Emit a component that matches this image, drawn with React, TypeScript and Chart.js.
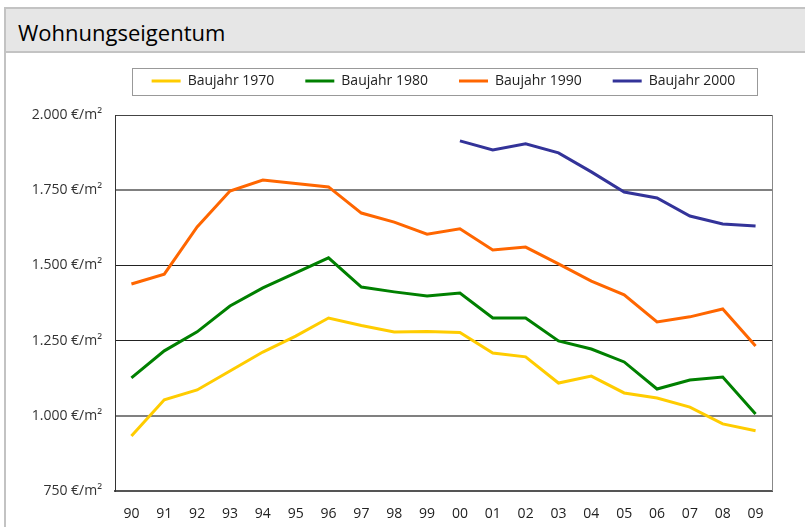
import React, { useEffect, useRef } from 'react';
import { Chart, registerables } from 'chart.js';

Chart.register(...registerables);

const FONT = '"Open Sans", sans-serif';

const years = ['90', '91', '92', '93', '94', '95', '96', '97', '98', '99', '00', '01', '02', '03', '04', '05', '06', '07', '08', '09'];
const baujahr1970 = [933, 1053, 1086, 1149, 1212, 1265, 1325, 1300, 1279, 1280, 1277, 1209, 1196, 1109, 1132, 1076, 1059, 1029, 973, 950];
const baujahr1980 = [1126, 1216, 1279, 1365, 1425, 1475, 1525, 1428, 1412, 1398, 1408, 1325, 1325, 1249, 1222, 1179, 1089, 1119, 1129, 1006];
const baujahr1990 = [1438, 1471, 1628, 1747, 1784, 1772, 1761, 1674, 1644, 1604, 1622, 1551, 1561, 1505, 1448, 1402, 1312, 1329, 1355, 1232];
const baujahr2000 = [null, null, null, null, null, null, null, null, null, null, 1914, 1884, 1904, 1874, 1811, 1744, 1724, 1664, 1638, 1631];
const seriesNames = ['Baujahr 1970', 'Baujahr 1980', 'Baujahr 1990', 'Baujahr 2000'];
const seriesColors = ['#ffcc00', '#008000', '#ff6600', '#333399'];
const yMin = 750;
const yMax = 2000;
const yStep = 250;
const titleText = 'Wohnungseigentum';

function formatEuro(v: number): string {
  const s = String(Math.round(v));
  const sep = s.length > 3 ? s.slice(0, s.length - 3) + '.' + s.slice(-3) : s;
  return sep + ' €/m²';
}

const framePlugin = {
  id: 'framePlugin',
  beforeDraw(chart: any) {
    const lg = chart.legend;
    const ca = chart.chartArea;
    if (lg && ca) {
      lg.left = ca.left;
      lg.right = ca.right;
    }
  },
  afterDraw(chart: any) {
    const ctx = chart.ctx;
    const ca = chart.chartArea;
    const lg = chart.legend;
    ctx.save();
    // right border of plot
    ctx.strokeStyle = '#888888';
    ctx.lineWidth = 1;
    ctx.beginPath();
    const rx = Math.round(ca.right) + 0.5;
    ctx.moveTo(rx, ca.top);
    ctx.lineTo(rx, ca.bottom);
    ctx.stroke();
    // legend frame
    if (lg) {
      const pad = lg.options.labels.padding;
      const cy = lg.top + pad + 7;
      const x0 = Math.round(ca.left + 17) + 0.5;
      const x1 = Math.round(ca.right - 15) + 0.5;
      const y0 = Math.round(cy - 13) + 0.5;
      const y1 = Math.round(cy + 14) + 0.5;
      ctx.strokeStyle = '#999999';
      ctx.strokeRect(x0, y0, x1 - x0, y1 - y0);
    }
    ctx.restore();
  },
};

export default function App() {
  const ref = useRef<HTMLCanvasElement>(null);

  useEffect(() => {
    const values = [baujahr1970, baujahr1980, baujahr1990, baujahr2000];
    const chart = new Chart(ref.current as HTMLCanvasElement, {
      type: 'line',
      data: {
        labels: years,
        datasets: values.map((d, i) => ({
          label: seriesNames[i],
          data: d,
          borderColor: seriesColors[i],
          backgroundColor: seriesColors[i],
          borderWidth: 3,
          pointRadius: 0,
          tension: 0,
          fill: false,
        })),
      },
      options: {
        responsive: false,
        animation: false,
        devicePixelRatio: 1,
        layout: { padding: { top: 43, left: 0, right: 33, bottom: 0 } },
        plugins: {
          tooltip: { enabled: false },
          title: { display: false },
          subtitle: {
            display: true,
            text: '',
            weight: 500,
            font: { size: 1, lineHeight: 1 },
            padding: { top: 0, bottom: 16 },
          } as any,
          legend: {
            display: true,
            position: 'top',
            labels: {
              boxWidth: 29,
              boxHeight: 3,
              padding: 31,
              color: '#222222',
              font: { family: FONT, size: 14 },
              generateLabels: (c: any) =>
                Chart.defaults.plugins.legend.labels.generateLabels(c).map((l: any) => ({ ...l, lineWidth: 0 })),
            },
          },
        },
        scales: {
          x: {
            type: 'category',
            offset: true,
            grid: { display: false, drawTicks: false },
            border: { display: true, color: '#555555', width: 2 },
            ticks: {
              color: '#222222',
              padding: 15,
              font: { family: FONT, size: 14 },
              maxRotation: 0,
              autoSkip: false,
            },
            afterFit: (s: any) => {
              s.height = 36;
            },
          },
          y: {
            min: yMin,
            max: yMax,
            grid: {
              drawTicks: false,
              color: (c: any) => {
                const v = c.tick ? c.tick.value : 0;
                if (v === 1500 || v === 1250) return '#222222';
                if (v === 2000) return '#444444';
                if (v === 750) return 'rgba(0,0,0,0)';
                return '#808080';
              },
              lineWidth: (c: any) => {
                const v = c.tick ? c.tick.value : 0;
                return v === 1750 || v === 1000 ? 2 : 1;
              },
            },
            border: { display: true, color: '#333333', width: 1 },
            ticks: {
              stepSize: yStep,
              color: '#333333',
              padding: 13,
              font: { family: FONT, size: 14 },
              callback: (v: any) => formatEuro(Number(v)),
            },
            afterFit: (s: any) => {
              s.width = 115;
            },
          },
        },
      },
      plugins: [framePlugin],
    });
    return () => chart.destroy();
  }, []);

  return (
    <div style={{ position: 'absolute', left: 0, top: 0, width: 805, height: 527, overflow: 'hidden', background: '#ffffff' }}>
      <div
        style={{
          position: 'absolute',
          left: 4,
          top: 7,
          width: 801,
          height: 520,
          borderLeft: '2px solid #c3c3c3',
          borderTop: '2px solid #c3c3c3',
          boxSizing: 'border-box',
        }}
      />
      <div
        style={{
          position: 'absolute',
          left: 6,
          top: 9,
          width: 799,
          height: 42,
          background: '#e6e6e6',
          borderBottom: '2px solid #c3c3c3',
        }}
      />
      <div
        style={{
          position: 'absolute',
          left: 18,
          top: 17,
          fontFamily: FONT,
          fontSize: 22,
          lineHeight: '30px',
          color: '#000000',
          whiteSpace: 'nowrap',
        }}
      >
        {titleText}
      </div>
      <canvas ref={ref} width={805} height={527} style={{ position: 'absolute', left: 0, top: 0, width: 805, height: 527 }} />
    </div>
  );
}
